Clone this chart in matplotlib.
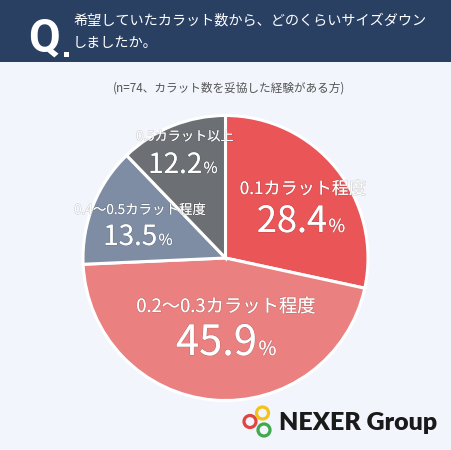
import matplotlib.pyplot as plt
import matplotlib.patheffects as pe
from matplotlib.patches import Rectangle, Circle

plt.rcParams['font.family'] = ['Noto Sans CJK JP', 'DejaVu Sans']

# data
categories = ['0.1カラット程度', '0.2〜0.3カラット程度', '0.4〜0.5カラット程度', '0.5カラット以上']
values = [28.4, 45.9, 13.5, 12.2]
colors = ['#EA5558', '#EA8080', '#7E8DA4', '#6C6F73']

title_lines = ['希望していたカラット数から、どのくらいサイズダウン', 'しましたか。']
subtitle = '(n=74、カラット数を妥協した経験がある方)'

W, H = 452, 450
fig = plt.figure(figsize=(W / 100, H / 100), dpi=100)
fig.patch.set_facecolor('#F2F5FC')
ax = fig.add_axes([0, 0, 1, 1])
ax.set_facecolor('#F2F5FC')

# pie (pixel coordinates, y downwards)
cx, cy, r = 225.5, 258, 142.5
ax.pie(values, colors=colors, center=(cx, cy), radius=r,
       startangle=270, counterclock=True,
       wedgeprops=dict(edgecolor='white', linewidth=2.2))
ax.set_xlim(0, W)
ax.set_ylim(H, 0)
ax.set_aspect('auto')
ax.axis('off')

# header
ax.add_patch(Rectangle((0, 0), W, 62, facecolor='#2A4063', edgecolor='none', zorder=5))
ax.text(28, 52, 'Q', color='white', fontsize=33, fontweight='bold',
        family='Roboto', va='baseline', zorder=6)
ax.add_patch(Rectangle((64.5, 51.5), 5, 5, facecolor='white', edgecolor='none', zorder=6))
ax.text(73, 21, title_lines[0], color='white', fontsize=10.2, va='center', zorder=6)
ax.text(73, 43, title_lines[1], color='white', fontsize=10.2, va='center', zorder=6)

ax.text(229, 88, subtitle, color='#555555', fontsize=8.4, ha='center', va='center')

# labels: (category x, y, size), (number end x, baseline y, size, pct size)
stroke = [pe.withStroke(linewidth=0.8, foreground='#00000028')]
label_pos = [
    (303, 189, 12.3, 327, 232, 26, 13),
    (226, 307, 13.2, 257, 355, 30, 14),
    (140, 210, 9.7, 157, 245, 20, 11),
    (185, 137, 9.5, 202, 173, 20, 11),
]
for cat, val, (lx, ly, ls, nx, ny, ns, ps) in zip(categories, values, label_pos):
    ax.text(lx, ly, cat, color='white', fontsize=ls, ha='center', va='center',
            path_effects=stroke)
    ax.text(nx, ny, f'{val:.1f}', color='white', fontsize=ns, ha='right',
            va='baseline', path_effects=stroke)
    ax.text(nx + 1.5, ny, '%', color='white', fontsize=ps, ha='left',
            va='baseline', path_effects=stroke)

# logo
for (x, y, c) in [(250, 421.5, '#E0453F'), (262.5, 413, '#F3C21B'), (264, 430, '#3FA94B')]:
    ax.add_patch(Circle((x, y), 6.0, fill=False, edgecolor=c, linewidth=2.3, zorder=6))
ax.text(279, 429.5, 'NEXER Group', color='#1A1A1A', fontsize=18, fontweight='heavy',
        family='Lato', va='baseline', ha='left')

fig.savefig('out.png', dpi=100, facecolor=fig.get_facecolor())
